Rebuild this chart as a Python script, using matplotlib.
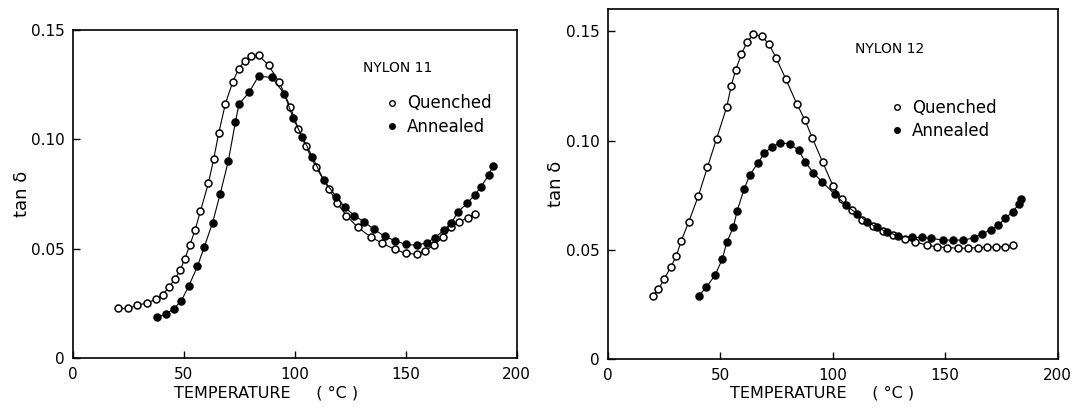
import matplotlib
matplotlib.use("Agg")
import matplotlib.pyplot as plt
from matplotlib.lines import Line2D

# ---------------- data ----------------
# Nylon 11
n11_q_T = [20.4, 24.8, 29.0, 33.4, 37.4, 40.5, 43.3, 46.0, 48.5, 50.4, 52.8, 55.1, 57.5, 61.1,
           63.5, 65.8, 68.8, 72.1, 74.8, 77.5, 80.4, 83.8, 88.2, 93.0, 98.0, 101.6, 104.9,
           109.6, 115.6, 119.0, 123.3, 128.4, 134.2, 139.5, 145.1, 150.0, 154.9, 158.7,
           162.8, 166.6, 170.3, 174.1, 177.9, 181.2]
n11_q_tan = [0.0228, 0.0228, 0.0242, 0.0253, 0.0269, 0.0290, 0.0325, 0.0361, 0.0405, 0.0452,
             0.0518, 0.0586, 0.0671, 0.0799, 0.0910, 0.1030, 0.1164, 0.1263, 0.1324, 0.1359,
             0.1381, 0.1384, 0.1339, 0.1262, 0.1149, 0.1049, 0.0971, 0.0873, 0.0772, 0.0710,
             0.0652, 0.0598, 0.0555, 0.0525, 0.0498, 0.0479, 0.0476, 0.0491, 0.0517, 0.0553,
             0.0598, 0.0624, 0.0642, 0.0658]
n11_a_T = [37.9, 42.1, 45.5, 48.9, 52.2, 56.2, 59.3, 63.0, 66.4, 70.1, 73.3, 74.9, 79.5, 83.7,
           89.8, 95.4, 99.3, 103.4, 107.9, 113.1, 118.7, 122.6, 126.8, 131.2, 135.7, 140.5,
           145.2, 150.0, 155.0, 159.5, 163.1, 167.3, 170.6, 173.6, 177.7, 181.2, 183.9,
           187.4, 189.3]
n11_a_tan = [0.0187, 0.0202, 0.0226, 0.0262, 0.0329, 0.0420, 0.0510, 0.0619, 0.0750, 0.0901,
             0.1080, 0.1161, 0.1216, 0.1289, 0.1283, 0.1207, 0.1096, 0.1012, 0.0921, 0.0814,
             0.0738, 0.0690, 0.0652, 0.0624, 0.0589, 0.0558, 0.0537, 0.0520, 0.0517, 0.0528,
             0.0551, 0.0586, 0.0619, 0.0670, 0.0708, 0.0748, 0.0784, 0.0837, 0.0878]

# Nylon 12
n12_q_T = [20.0, 22.5, 25.0, 28.1, 30.5, 32.7, 36.0, 40.3, 44.3, 48.4, 52.9, 54.9, 56.9, 59.4,
           61.9, 64.7, 68.4, 71.7, 74.8, 79.2, 84.0, 87.7, 90.9, 95.5, 100.2, 104.0, 108.4,
           112.9, 117.8, 122.5, 127.0, 132.1, 136.6, 141.8, 146.2, 151.0, 155.5, 160.0,
           164.5, 168.7, 172.4, 176.6, 180.3]
n12_q_tan = [0.0290, 0.0320, 0.0365, 0.0423, 0.0473, 0.0542, 0.0628, 0.0747, 0.0877, 0.1009,
             0.1153, 0.1251, 0.1324, 0.1394, 0.1450, 0.1485, 0.1478, 0.1440, 0.1379, 0.1280,
             0.1169, 0.1093, 0.1013, 0.0902, 0.0791, 0.0735, 0.0682, 0.0639, 0.0609, 0.0587,
             0.0568, 0.0548, 0.0537, 0.0522, 0.0514, 0.0511, 0.0508, 0.0508, 0.0511, 0.0513,
             0.0514, 0.0515, 0.0524]
n12_a_T = [40.4, 43.8, 47.8, 50.9, 53.0, 55.8, 57.5, 60.6, 63.2, 66.8, 69.5, 72.9, 76.6, 80.9,
           84.9, 87.8, 91.4, 95.3, 100.9, 105.9, 110.9, 115.4, 119.6, 124.0, 129.2, 135.1,
           139.6, 143.6, 149.2, 153.6, 158.0, 162.8, 166.5, 170.2, 173.6, 176.6, 180.0,
           182.9, 183.7]
n12_a_tan = [0.0289, 0.0329, 0.0386, 0.0458, 0.0537, 0.0603, 0.0677, 0.0778, 0.0843, 0.0898,
             0.0941, 0.0971, 0.0991, 0.0984, 0.0956, 0.0902, 0.0852, 0.0811, 0.0754, 0.0705,
             0.0664, 0.0628, 0.0603, 0.0583, 0.0563, 0.0557, 0.0557, 0.0553, 0.0545, 0.0545,
             0.0545, 0.0555, 0.0575, 0.0590, 0.0613, 0.0644, 0.0674, 0.0712, 0.0731]

x_ticks = [0, 50, 100, 150, 200]
x_ticklabels = ["0", "50", "100", "150", "200"]
y_ticks = [0, 0.05, 0.10, 0.15]
y_ticklabels = ["0", "0.05", "0.10", "0.15"]

plt.rcParams['font.family'] = ['DejaVu Sans']

fig = plt.figure(figsize=(10.72, 4.08), dpi=100)
ax1 = fig.add_axes([72.7/1072, 1-358.3/408, 444/1072, 328.3/408])
ax2 = fig.add_axes([607.7/1072, 1-359.3/408, 450/1072, 350/408])

def style(ax, ylim, title, name_pos, leg_pos, xlab_pos):
    ax.set_xlim(0, 200)
    ax.set_ylim(*ylim)
    ax.set_xticks(x_ticks)
    ax.set_xticklabels(x_ticklabels)
    ax.set_yticks(y_ticks)
    ax.set_yticklabels(y_ticklabels)
    ax.tick_params(direction='in', length=5, width=1, labelsize=11, pad=6, colors='black')
    for s in ax.spines.values():
        s.set_linewidth(1.2)
    ax.set_xlabel("TEMPERATURE     ( °C )", fontsize=11.5)
    ax.xaxis.set_label_coords(*xlab_pos)
    ax.set_ylabel("tan δ", fontsize=13)
    ax.yaxis.set_label_coords(-0.095, 0.5)
    ax.text(name_pos[0], name_pos[1], title, transform=ax.transAxes, fontsize=10,
            va='center', ha='left')
    handles = [Line2D([], [], ls='none', marker='o', ms=4, mfc='white', mec='black', mew=1),
               Line2D([], [], ls='none', marker='o', ms=4, mfc='black', mec='black', mew=1)]
    ax.legend(handles, ["Quenched", "Annealed"], loc='upper left', bbox_to_anchor=leg_pos,
              frameon=False, fontsize=12, handlelength=0.6, handletextpad=0.6,
              borderpad=0, borderaxespad=0, labelspacing=0.32)

def draw(ax, qT, qv, aT, av):
    ax.plot(qT, qv, '-', color='black', lw=0.8, marker='o', ms=5.0, mfc='white',
            mec='black', mew=1.1, zorder=3)
    ax.plot(aT, av, '-', color='black', lw=0.8, marker='o', ms=5.0, mfc='black',
            mec='black', mew=1.1, zorder=4)

draw(ax1, n11_q_T, n11_q_tan, n11_a_T, n11_a_tan)
draw(ax2, n12_q_T, n12_q_tan, n12_a_T, n12_a_tan)

style(ax1, (0, 0.15), "NYLON 11", (0.654, 0.884), (0.708, 0.804), (0.435, -0.082))
style(ax2, (0, 0.16), "NYLON 12", (0.55, 0.887), (0.631, 0.745), (0.477, -0.076))

fig.savefig("out.png", dpi=100)
